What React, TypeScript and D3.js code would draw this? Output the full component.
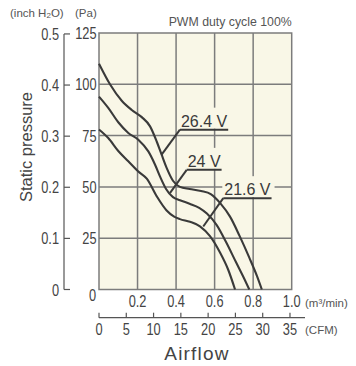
import React from 'react';
import * as d3 from 'd3';

// Axes / ticks
const flowTicks = [0.2, 0.4, 0.6, 0.8, 1.0];
const flowTickLabels = ['0.2', '0.4', '0.6', '0.8', '1.0'];
const paTicks = [25, 50, 75, 100, 125];
const paTickLabels = ['25', '50', '75', '100', '125'];
const inchTicks = [0, 0.1, 0.2, 0.3, 0.4, 0.5];
const inchTickLabels = ['0', '0.1', '0.2', '0.3', '0.4', '0.5'];
const cfmTicks = [0, 5, 10, 15, 20, 25, 30, 35];

// Series (airflow m3/min, static pressure Pa)
const seriesNames = ['26.4 V', '24 V', '21.6 V'];
const flow264 = [0, 0.057, 0.118, 0.17, 0.222, 0.265, 0.3, 0.325, 0.351, 0.384, 0.42, 0.47, 0.53, 0.58, 0.63, 0.68, 0.73, 0.78, 0.82, 0.845];
const pa264 = [110, 100, 92, 87.5, 84, 79.5, 72, 65.7, 59.3, 53, 50, 49, 48, 46.5, 42, 35.5, 26, 15.5, 6.5, 0];
const flow24 = [0, 0.048, 0.1, 0.152, 0.204, 0.256, 0.291, 0.317, 0.348, 0.384, 0.42, 0.47, 0.52, 0.56, 0.61, 0.66, 0.71, 0.755, 0.78];
const pa24 = [94, 88.5, 81.5, 76.3, 73, 67.3, 60.8, 55, 49, 45, 43.5, 41.8, 39.8, 37, 31.5, 23, 13.5, 5, 0];
const flow216 = [0, 0.048, 0.1, 0.152, 0.204, 0.248, 0.299, 0.351, 0.39, 0.42, 0.472, 0.524, 0.576, 0.628, 0.671, 0.706];
const pa216 = [78, 73.8, 67.5, 62.5, 57.5, 54, 45.5, 38.5, 35.5, 34.3, 33, 30.8, 26, 18, 9.5, 0];

// Callout annotations (data coords)
const labelFlow = [0.42, 0.455, 0.645];
const labelPa = [77.9, 58.3, 44.5];
const tipFlow = [0.325, 0.368, 0.541];
const tipPa = [65.7, 47, 30.7];

const PA_PER_INCH = 249.089;
const M3MIN_TO_CFM = 35.3147;

const BG = '#f9f7e7';
const GRID = '#7c7c7c';
const CURVE = '#3a3a3a';
const TXT = '#444';
const SANS = "'Liberation Sans', Arial, sans-serif";

function measure(text: string, font: string): number {
  const c = document.createElement('canvas').getContext('2d');
  if (!c) return text.length * 8;
  c.font = font;
  return c.measureText(text).width;
}

function NText(props: { x: number; y: number; anchor?: string; children: React.ReactNode }) {
  return (
    <text
      transform={`translate(${props.x},${props.y}) scale(0.8,1)`}
      textAnchor={props.anchor || 'middle'}
      fontFamily={SANS}
      fontSize={16}
      fill={TXT}
    >
      {props.children}
    </text>
  );
}

export default function App() {
  const W = 356, H = 366;
  const L = 99, R = 291.7, T = 33, B = 289.5;
  const x = d3.scaleLinear().domain([0, 1]).range([L, R]);
  const y = d3.scaleLinear().domain([0, 125]).range([B, T]);
  const yInch = (v: number) => y(v * PA_PER_INCH);
  const xCfm = d3.scaleLinear().domain([0, M3MIN_TO_CFM]).range([L, R]);
  const inchAxisX = 64;
  const cfmAxisY = 317.7;

  const line = d3.line<[number, number]>()
    .x(d => x(d[0]))
    .y(d => y(d[1]))
    .curve(d3.curveMonotoneX);

  const flows = [flow264, flow24, flow216];
  const pas = [pa264, pa24, pa216];
  const paths = flows.map((f, i) => line(f.map((v, j) => [v, pas[i][j]] as [number, number])) || '');

  const labelFont = `16px ${SANS}`;

  return (
    <svg width={W} height={H} style={{ position: 'absolute', left: 0, top: 0 }}>
      {/* header texts */}
      <text x={10} y={17} fontFamily={SANS} fontSize={11.5} fill="#555">
        (inch H<tspan fontSize={8} dy={1}>2</tspan><tspan dy={-1}>O)</tspan>
      </text>
      <text x={75} y={17} fontFamily={SANS} fontSize={11.5} fill="#555">(Pa)</text>
      <text x={R} y={26} textAnchor="end" fontFamily={SANS} fontSize={12.3} fill="#555">PWM duty cycle 100%</text>

      {/* plot background */}
      <rect x={L} y={T} width={R - L} height={B - T} fill={BG} />
      {/* grid */}
      {flowTicks.slice(0, 4).map((t, i) => (
        <line key={'vx' + i} x1={x(t)} x2={x(t)} y1={T} y2={B} stroke={GRID} strokeWidth={1.5} />
      ))}
      {paTicks.slice(0, 4).map((t, i) => (
        <line key={'hy' + i} x1={L} x2={R} y1={y(t)} y2={y(t)} stroke={GRID} strokeWidth={1.5} />
      ))}
      <rect x={L} y={T} width={R - L} height={B - T} fill="none" stroke={GRID} strokeWidth={1.5} />

      {/* label backgrounds */}
      {seriesNames.map((n, i) => {
        const w = measure(n, labelFont);
        const ux = x(labelFlow[i]);
        const uy = y(labelPa[i]);
        return <rect key={'bg' + i} x={ux - 1} y={uy - 22} width={w + 6} height={21} fill={BG} />;
      })}

      {/* curves */}
      {paths.map((p, i) => (
        <path key={'c' + i} d={p} fill="none" stroke={CURVE} strokeWidth={2.1} />
      ))}

      {/* callouts */}
      {seriesNames.map((n, i) => {
        const w = measure(n, labelFont);
        const ux = x(labelFlow[i]);
        const uy = y(labelPa[i]);
        return (
          <g key={'lab' + i}>
            <line x1={ux} x2={ux + w + 2} y1={uy} y2={uy} stroke={CURVE} strokeWidth={2} />
            <line x1={ux} x2={x(tipFlow[i])} y1={uy} y2={y(tipPa[i])} stroke={CURVE} strokeWidth={2} />
            <text x={ux + 1} y={uy - 3} fontFamily={SANS} fontSize={16} fill="#3a3a3a">{n}</text>
          </g>
        );
      })}

      {/* Pa tick labels */}
      {paTicks.map((t, i) => (
        <NText key={'pl' + i} x={96.5} y={y(t) + 6} anchor="end">{paTickLabels[i]}</NText>
      ))}

      {/* inch axis */}
      <line x1={inchAxisX} x2={inchAxisX} y1={yInch(0.5)} y2={y(0)} stroke="#555" strokeWidth={1.2} />
      {inchTicks.map((t, i) => (
        <g key={'it' + i}>
          <line x1={inchAxisX} x2={inchAxisX + 6} y1={yInch(t)} y2={yInch(t)} stroke="#555" strokeWidth={1.2} />
          <NText x={59} y={yInch(t) + 6} anchor="end">{inchTickLabels[i]}</NText>
        </g>
      ))}

      {/* flow tick labels */}
      <NText x={96} y={301} anchor="end">0</NText>
      {flowTicks.map((t, i) => (
        <NText key={'fl' + i} x={x(t)} y={307}>{flowTickLabels[i]}</NText>
      ))}
      <text x={305} y={307} fontFamily={SANS} fontSize={11.5} fill="#555">(m³/min)</text>

      {/* CFM axis */}
      <line x1={L} x2={305} y1={cfmAxisY} y2={cfmAxisY} stroke="#555" strokeWidth={1.2} />
      {cfmTicks.map((t, i) => (
        <g key={'ct' + i}>
          <line x1={xCfm(t)} x2={xCfm(t)} y1={cfmAxisY} y2={cfmAxisY - 5} stroke="#555" strokeWidth={1.2} />
          <NText x={xCfm(t)} y={335}>{t}</NText>
        </g>
      ))}
      <text x={305} y={334} fontFamily={SANS} fontSize={11.5} fill="#555">(CFM)</text>

      {/* axis titles */}
      <text x={197} y={360} textAnchor="middle" fontFamily={SANS} fontSize={19} letterSpacing={1.2} fill={TXT}>Airflow</text>
      <text transform={`translate(32,147) rotate(-90)`} textAnchor="middle" fontFamily={SANS} fontSize={16.5} fill={TXT}>Static pressure</text>
    </svg>
  );
}
